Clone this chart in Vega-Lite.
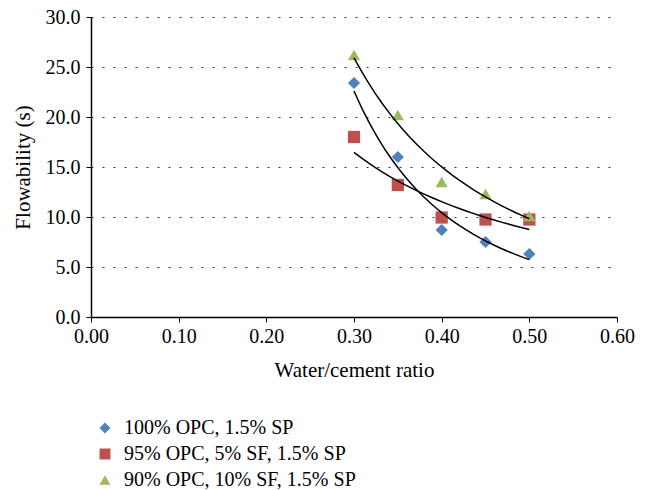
{
  "$schema": "https://vega.github.io/schema/vega-lite/v6.json",
  "width": 526,
  "height": 300,
  "autosize": {"type": "none"},
  "padding": {"left": 91, "top": 17, "right": 30, "bottom": 173},
  "background": "white",
  "config": {
    "view": {"stroke": null},
    "font": "Liberation Serif",
    "axis": {
      "labelFont": "Liberation Serif",
      "titleFont": "Liberation Serif",
      "labelFontSize": 20,
      "titleFontSize": 21,
      "titleFontWeight": "normal",
      "labelColor": "black",
      "titleColor": "black",
      "domainColor": "black",
      "domainWidth": 1.5,
      "tickColor": "black",
      "tickSize": 5,
      "labelFlush": false
    }
  },
  "data": {
    "values": [
      {"mix": "100% OPC, 1.5% SP", "ratio": 0.30, "flow": 23.4},
      {"mix": "100% OPC, 1.5% SP", "ratio": 0.35, "flow": 16.0},
      {"mix": "100% OPC, 1.5% SP", "ratio": 0.40, "flow": 8.7},
      {"mix": "100% OPC, 1.5% SP", "ratio": 0.45, "flow": 7.5},
      {"mix": "100% OPC, 1.5% SP", "ratio": 0.50, "flow": 6.3},
      {"mix": "95% OPC, 5% SF, 1.5% SP", "ratio": 0.30, "flow": 18.0},
      {"mix": "95% OPC, 5% SF, 1.5% SP", "ratio": 0.35, "flow": 13.2},
      {"mix": "95% OPC, 5% SF, 1.5% SP", "ratio": 0.40, "flow": 9.95},
      {"mix": "95% OPC, 5% SF, 1.5% SP", "ratio": 0.45, "flow": 9.75},
      {"mix": "95% OPC, 5% SF, 1.5% SP", "ratio": 0.50, "flow": 9.75},
      {"mix": "90% OPC, 10% SF, 1.5% SP", "ratio": 0.30, "flow": 26.2},
      {"mix": "90% OPC, 10% SF, 1.5% SP", "ratio": 0.35, "flow": 20.2},
      {"mix": "90% OPC, 10% SF, 1.5% SP", "ratio": 0.40, "flow": 13.5},
      {"mix": "90% OPC, 10% SF, 1.5% SP", "ratio": 0.45, "flow": 12.3},
      {"mix": "90% OPC, 10% SF, 1.5% SP", "ratio": 0.50, "flow": 10.1}
    ]
  },
  "layer": [
    {
      "mark": {"type": "point", "filled": true, "opacity": 1, "size": 150},
      "encoding": {
        "x": {
          "field": "ratio", "type": "quantitative",
          "scale": {"domain": [0, 0.6], "nice": false, "zero": true},
          "axis": {
            "title": "Water/cement ratio",
            "values": [0, 0.1, 0.2, 0.3, 0.4, 0.5, 0.6],
            "format": ".2f",
            "grid": false,
            "labelPadding": 4,
            "titlePadding": 13
          }
        },
        "y": {
          "field": "flow", "type": "quantitative",
          "scale": {"domain": [0, 30], "nice": false},
          "axis": {
            "title": "Flowability (s)",
            "values": [0, 5, 10, 15, 20, 25, 30],
            "format": ".1f",
            "grid": true,
            "gridDash": [2, 9],
            "gridColor": "#333333",
            "gridWidth": 1,
            "labelPadding": 6,
            "titlePadding": 12
          }
        },
        "color": {
          "field": "mix", "type": "nominal",
          "scale": {
            "domain": ["100% OPC, 1.5% SP", "95% OPC, 5% SF, 1.5% SP", "90% OPC, 10% SF, 1.5% SP"],
            "range": ["#4F81BD", "#C0504D", "#9BBB59"]
          },
          "legend": {
            "title": null,
            "orient": "none",
            "legendX": 4,
            "legendY": 401,
            "padding": 0,
            "labelFont": "Liberation Serif",
            "labelFontSize": 20,
            "labelColor": "black",
            "labelLimit": 0,
            "labelOffset": 9,
            "rowPadding": 6,
            "symbolSize": 120,
            "symbolOpacity": 1
          }
        },
        "shape": {
          "field": "mix", "type": "nominal",
          "scale": {
            "domain": ["100% OPC, 1.5% SP", "95% OPC, 5% SF, 1.5% SP", "90% OPC, 10% SF, 1.5% SP"],
            "range": ["diamond", "square", "triangle-up"]
          },
          "legend": {
            "title": null,
            "orient": "none",
            "legendX": 4,
            "legendY": 401,
            "padding": 0,
            "labelFont": "Liberation Serif",
            "labelFontSize": 20,
            "labelColor": "black",
            "labelLimit": 0,
            "labelOffset": 9,
            "rowPadding": 6,
            "symbolSize": 120,
            "symbolOpacity": 1
          }
        }
      }
    },
    {
      "transform": [
        {"regression": "flow", "on": "ratio", "groupby": ["mix"], "method": "pow", "extent": [0.3, 0.5]}
      ],
      "mark": {"type": "line", "color": "black", "strokeWidth": 1.5},
      "encoding": {
        "x": {"field": "ratio", "type": "quantitative"},
        "y": {"field": "flow", "type": "quantitative"},
        "detail": {"field": "mix", "type": "nominal"}
      }
    }
  ]
}
